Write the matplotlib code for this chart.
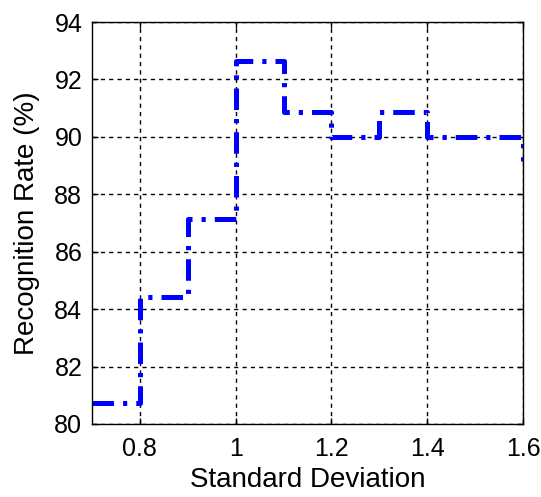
import matplotlib
matplotlib.use("Agg")
from matplotlib import pyplot as plt

# recognition rate vs standard deviation (step plot)
std_dev = [0.7, 0.8, 0.9, 1.0, 1.1, 1.2, 1.3, 1.4, 1.5, 1.6]
recog_rate = [80.74, 84.44, 87.15, 92.65, 90.85, 90.0, 90.85, 90.0, 90.0, 89.15]

x_ticks = [0.8, 1.0, 1.2, 1.4, 1.6]
x_tick_labels = ['0.8', '1', '1.2', '1.4', '1.6']
y_ticks = [80, 82, 84, 86, 88, 90, 92, 94]

plt.rcParams['font.family'] = ['Liberation Sans', 'DejaVu Sans']
plt.rcParams['lines.scale_dashes'] = False

fig = plt.figure(figsize=(5.41, 4.97), dpi=100)
ax = fig.add_axes([92 / 541, 1 - 424 / 497, 431 / 541, 402 / 497])

ax.plot(std_dev, recog_rate, drawstyle='steps-post', color=(0, 0, 1),
        linewidth=3.6, linestyle=(0, (15.5, 6.5, 3, 6.5)),
        dash_capstyle='butt', solid_joinstyle='miter')

ax.set_xlim(0.7, 1.6)
ax.set_ylim(80, 94)
ax.set_xticks(x_ticks)
ax.set_xticklabels(x_tick_labels)
ax.set_yticks(y_ticks)
ax.grid(True, color='black', linestyle=(0, (3, 3)), linewidth=1.0)
ax.tick_params(direction='in', length=4, width=1, top=True, right=True,
               labelsize=18, colors='black')
ax.tick_params(axis='x', pad=9)
ax.tick_params(axis='y', pad=7)
for sp in ax.spines.values():
    sp.set_linewidth(1.0)
ax.set_xlabel("Standard Deviation", fontsize=20, labelpad=5)
ax.set_ylabel("Recognition Rate (%)", fontsize=20, labelpad=10)

plt.savefig("out.png", dpi=100)
